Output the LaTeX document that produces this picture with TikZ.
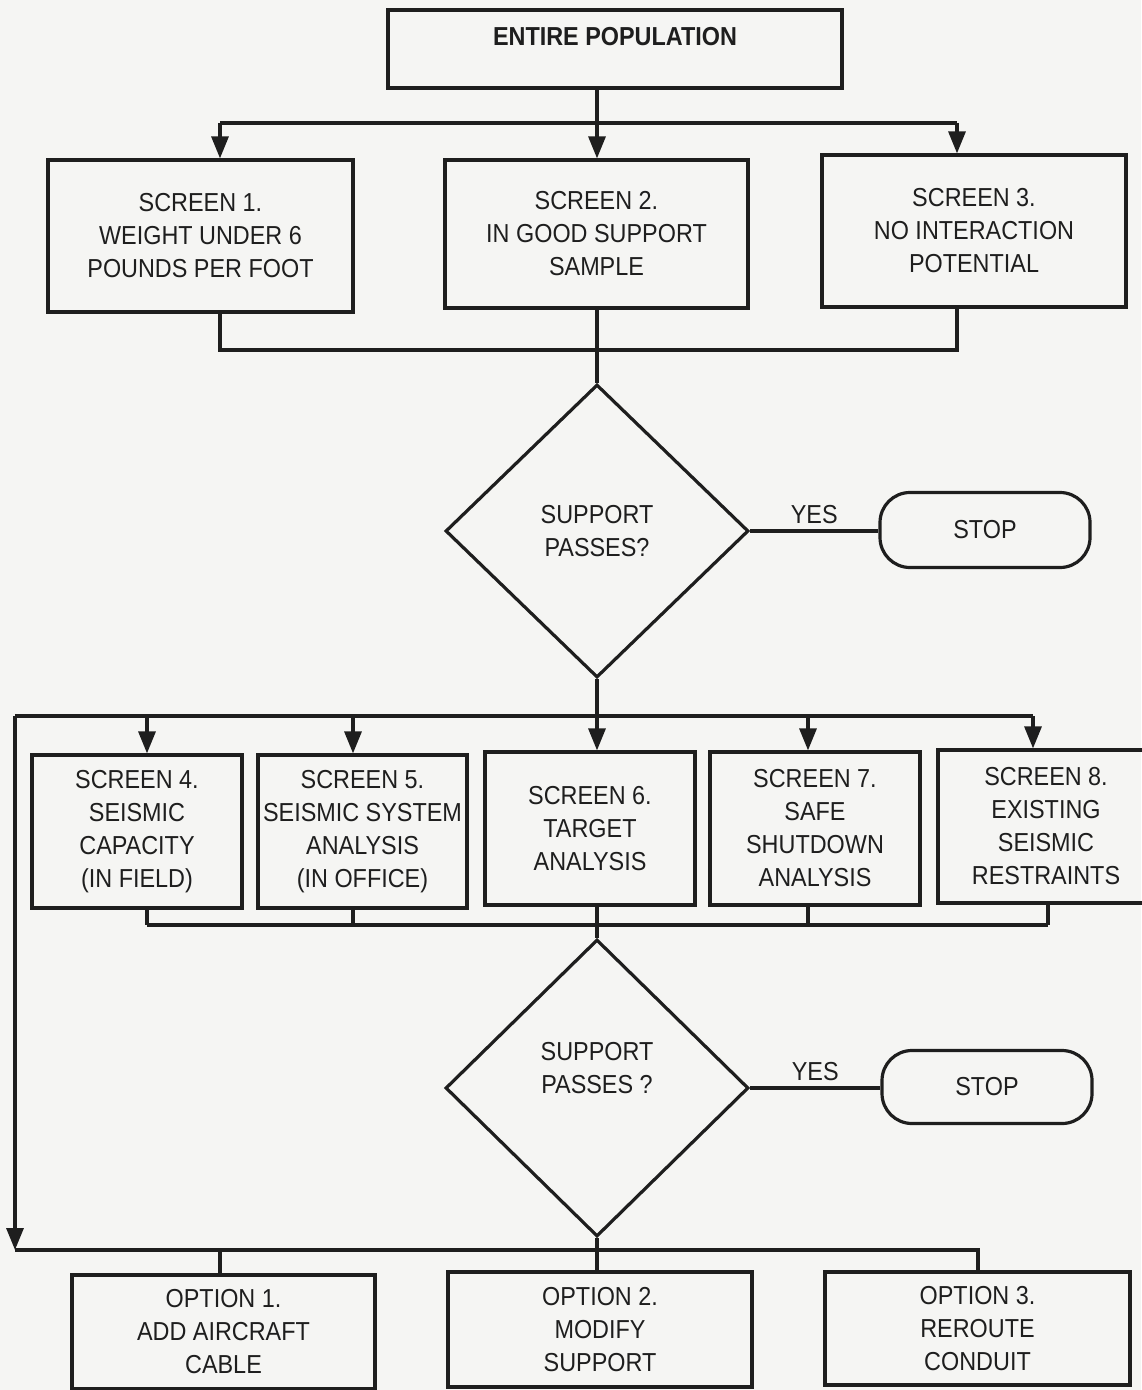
\documentclass[tikz,border=0pt]{standalone}
\usepackage{fontspec}
\setmainfont{Liberation Sans}[FakeStretch=0.9]
\usetikzlibrary{shapes.geometric,arrows.meta}
\definecolor{ink}{HTML}{1E1E1E}
\definecolor{paper}{HTML}{F5F5F3}
\newcommand\dtxt{\fontsize{13}{16.5}\selectfont}
\begin{document}
\begin{tikzpicture}[x=0.5pt,y=-0.5pt,
  color=ink, line width=1.6pt,
  box/.style={draw,rectangle,inner sep=0pt,align=center,font=\dtxt},
  dia/.style={draw,diamond,inner sep=0pt,align=center,font=\dtxt,minimum width=151.5pt},
  stopbox/.style={box,rounded corners=15pt,minimum width=105pt},
  arr/.style={-{Triangle[width=8.5pt,length=11pt]}},
  lbl/.style={font=\dtxt,inner sep=3pt}]
\fill[paper] (0,0) rectangle (1141,1390);
\useasboundingbox (0,0) rectangle (1141,1390);

% nodes
\node[box,font=\dtxt\bfseries,minimum width=227pt,minimum height=39pt] (top) at (615,49) {\raisebox{6.5pt}[9.5pt][0pt]{ENTIRE POPULATION}};
\node[box,minimum width=152.5pt,minimum height=76pt] (s1) at (200.5,236) {SCREEN 1.\\WEIGHT UNDER 6\\POUNDS PER FOOT};
\node[box,minimum width=151.5pt,minimum height=74pt] (s2) at (596.5,234) {SCREEN 2.\\IN GOOD SUPPORT\\SAMPLE};
\node[box,minimum width=152pt,minimum height=76pt] (s3) at (974,231) {SCREEN 3.\\NO INTERACTION\\POTENTIAL};
\node[dia,minimum height=146.5pt] (d1) at (597,531) {SUPPORT\\PASSES?};
\node[stopbox,minimum height=37.5pt] (stop1) at (985,530) {STOP};

\node[box,minimum width=105pt,minimum height=76.5pt] (s4) at (137,831.5) {SCREEN 4.\\SEISMIC\\CAPACITY\\(IN FIELD)};
\node[box,minimum width=104.5pt,minimum height=76.5pt] (s5) at (362.5,831.5) {SCREEN 5.\\SEISMIC SYSTEM\\ANALYSIS\\(IN OFFICE)};
\node[box,minimum width=105pt,minimum height=76.5pt] (s6) at (590,828.5) {SCREEN 6.\\TARGET\\ANALYSIS};
\node[box,minimum width=105pt,minimum height=76.5pt] (s7) at (815,828.5) {SCREEN 7.\\SAFE\\SHUTDOWN\\ANALYSIS};
\node[box,minimum width=108pt,minimum height=76.5pt] (s8) at (1046,826.5) {SCREEN 8.\\EXISTING\\SEISMIC\\RESTRAINTS};
\node[dia,minimum height=148.5pt] (d2) at (597,1088) {SUPPORT\\PASSES ?\\[3.5pt]};
\node[stopbox,minimum height=36.5pt] (stop2) at (987,1087) {STOP};

\node[box,minimum width=151.5pt,minimum height=57pt] (o1) at (223.5,1332) {OPTION 1.\\ADD AIRCRAFT\\CABLE};
\node[box,minimum width=152pt,minimum height=57.5pt] (o2) at (600,1329.5) {OPTION 2.\\MODIFY\\SUPPORT};
\node[box,minimum width=152.5pt,minimum height=56.5pt] (o3) at (977.5,1328.5) {OPTION 3.\\REROUTE\\CONDUIT};

% coordinates
\coordinate (a1) at (220,123);
\coordinate (a2) at (597,123);
\coordinate (a3) at (957,123);
\coordinate (b1) at (220,350);
\coordinate (b2) at (597,350);
\coordinate (b3) at (957,350);
\coordinate (c0) at (15,716);
\coordinate (c1) at (147,716);
\coordinate (c2) at (353,716);
\coordinate (c3) at (597,716);
\coordinate (c4) at (808,716);
\coordinate (c5) at (1033,716);
\coordinate (e0) at (15,1250);
\coordinate (f1) at (147,925);
\coordinate (f2) at (353,925);
\coordinate (f3) at (597,925);
\coordinate (f4) at (808,925);
\coordinate (f5) at (1048,925);
\coordinate (g1) at (220,1250);
\coordinate (g2) at (597,1250);
\coordinate (g3) at (978,1250);

% top fan-out
\draw (top.south -| a2) -- (a2);
\draw (a1) -- (a3);
\draw[arr] (a1) -- (a1 |- s1.north);
\draw[arr] (a2) -- (a2 |- s2.north);
\draw[arr] (a3) -- (a3 |- s3.north);
% merge 1
\draw (b1 |- s1.south) -- (b1) -- (b3) -- (b3 |- s3.south);
\draw (b2 |- s2.south) -- (d1.north);
% yes 1
\draw (d1.east) -- (d1.east -| stop1.west) node[midway,above,lbl] {YES};
% fan-out 2
\draw (d1.south) -- (c3);
\draw (c0) -- (c5);
\draw[arr] (c1) -- (c1 |- s4.north);
\draw[arr] (c2) -- (c2 |- s5.north);
\draw[arr] (c3) -- (c3 |- s6.north);
\draw[arr] (c4) -- (c4 |- s7.north);
\draw[arr] (c5) -- (c5 |- s8.north);
\draw[arr] (c0) -- (e0);
% merge 2
\draw (f1) -- (f5);
\draw (f1 |- s4.south) -- (f1);
\draw (f2 |- s5.south) -- (f2);
\draw (f3 |- s6.south) -- (f3) -- (d2.north);
\draw (f4 |- s7.south) -- (f4);
\draw (f5 |- s8.south) -- (f5);
% yes 2
\draw (d2.east) -- (d2.east -| stop2.west) node[midway,above,lbl] {YES};
% options
\draw (d2.south) -- (g2);
\draw (e0) -- (g3) -- (g3 |- o3.north);
\draw (g1) -- (g1 |- o1.north);
\draw (g2) -- (g2 |- o2.north);
\end{tikzpicture}
\end{document}
